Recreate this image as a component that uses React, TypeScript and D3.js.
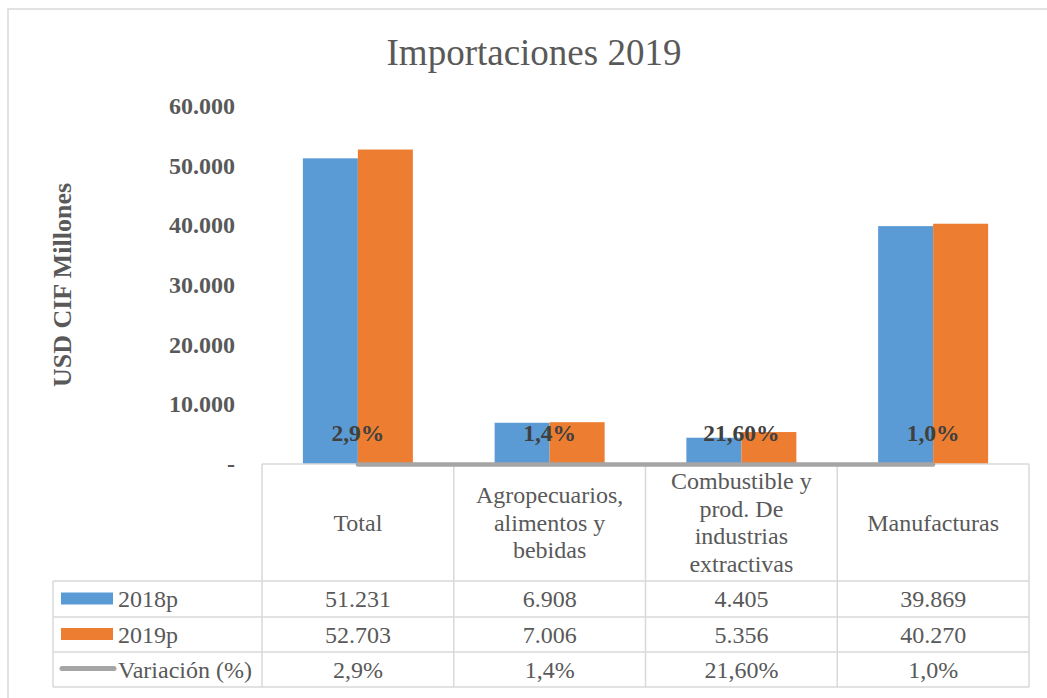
import React from "react";
import * as d3 from "d3";

const categories = ["Total", "Agropecuarios", "Combustible", "Manufacturas"];
const headerLines = [
  ["Total"],
  ["Agropecuarios,", "alimentos y", "bebidas"],
  ["Combustible y", "prod. De", "industrias", "extractivas"],
  ["Manufacturas"],
];
const series = ["2018p", "2019p"];
const values2018 = [51231, 6908, 4405, 39869];
const values2019 = [52703, 7006, 5356, 40270];
const variation = [2.9, 1.4, 21.6, 1.0];
const variationLabels = ["2,9%", "1,4%", "21,60%", "1,0%"];
const yTicks = [0, 10000, 20000, 30000, 40000, 50000, 60000];

const BLUE = "#5B9BD5";
const ORANGE = "#ED7D31";
const GREY = "#A5A5A5";
const TEXT = "#595959";
const BORDER = "#D9D9D9";
const FONT = "'Liberation Serif', 'Times New Roman', serif";

const fmt = (v: number) =>
  v === 0 ? "-" : d3.format(",")(v).replace(/,/g, ".");

export default function App() {
  const W = 1047;
  const H = 698;
  const x = d3.scaleBand<string>().domain(categories).range([262, 1029]);
  const inner = d3
    .scaleBand<string>()
    .domain(series)
    .range([0, x.bandwidth()])
    .paddingInner(0)
    .paddingOuter(0.743);
  const y = d3.scaleLinear().domain([0, 60000]).range([464, 106]);
  const seriesValues = [values2018, values2019];
  const colors = [BLUE, ORANGE];

  const line = d3
    .line<number>()
    .x((_, i) => (x(categories[i]) as number) + x.bandwidth() / 2)
    .y((v) => y(v / 100) + 0.5);

  const tableLeft = 53;
  const tableRight = 1029;
  const headerTop = 464;
  const rowTops = [581, 617, 652, 687];
  const rowLabels = ["2018p", "2019p", "Variación (%)"];
  const rowData = [
    values2018.map(fmt),
    values2019.map(fmt),
    variationLabels,
  ];
  const colEdges = categories.map((c) => x(c) as number).concat([tableRight]);
  const TABLE_FS = 24;

  return (
    <svg width={W} height={H} style={{ display: "block", position: "absolute", left: 0, top: 0 }} fontFamily={FONT}>
      <rect x={0} y={0} width={W} height={H} fill="#fff" />
      <rect x={8} y={9} width={1050} height={700} fill="#fff" stroke={BORDER} strokeWidth={1.5} />
      <text x={534} y={65} textAnchor="middle" fontSize={37} fill={TEXT}>
        Importaciones 2019
      </text>
      <text
        transform={`translate(71,285) rotate(-90)`}
        textAnchor="middle"
        fontSize={26}
        fontWeight="bold"
        fill={TEXT}
      >
        USD CIF Millones
      </text>
      {yTicks.map((t) => (
        <text key={t} x={235} y={y(t) + 8} textAnchor="end" fontSize={24} fontWeight="bold" fill={TEXT}>
          {fmt(t)}
        </text>
      ))}
      {categories.map((c, ci) => (
        <g key={c} transform={`translate(${x(c)},0)`}>
          {series.map((s, si) => (
            <rect
              key={s}
              x={inner(s)}
              width={inner.bandwidth()}
              y={y(seriesValues[si][ci])}
              height={y(0) - y(seriesValues[si][ci])}
              fill={colors[si]}
            />
          ))}
        </g>
      ))}
      {/* table grid */}
      <g stroke={BORDER} strokeWidth={1.5} fill="none">
        <line x1={262} x2={tableRight} y1={headerTop} y2={headerTop} />
        {rowTops.map((ry) => (
          <line key={ry} x1={tableLeft} x2={tableRight} y1={ry} y2={ry} />
        ))}
        {colEdges.map((cx, i) => (
          <line key={i} x1={cx} x2={cx} y1={headerTop} y2={rowTops[3]} />
        ))}
        <line x1={tableLeft} x2={tableLeft} y1={rowTops[0]} y2={rowTops[3]} />
      </g>
      <path d={line(variation) as string} fill="none" stroke={GREY} strokeWidth={4.5} strokeLinecap="round" />
      {categories.map((c, i) => (
        <text
          key={c}
          x={(x(c) as number) + x.bandwidth() / 2}
          y={441}
          textAnchor="middle"
          fontSize={23.5}
          fontWeight="bold"
          fill="#404040"
        >
          {variationLabels[i]}
        </text>
      ))}
      {/* header */}
      {categories.map((c, i) => {
        const lines = headerLines[i];
        const cy = (headerTop + rowTops[0]) / 2;
        const lh = 27.5;
        const start = cy - ((lines.length - 1) * lh) / 2 + 8;
        return (
          <text key={c} textAnchor="middle" fontSize={TABLE_FS} fill={TEXT}>
            {lines.map((l, li) => (
              <tspan key={li} x={(x(c) as number) + x.bandwidth() / 2} y={start + li * lh}>
                {l}
              </tspan>
            ))}
          </text>
        );
      })}
      {/* rows */}
      {rowLabels.map((lab, ri) => {
        const top = rowTops[ri];
        const bottom = rowTops[ri + 1];
        const cy = (top + bottom) / 2;
        return (
          <g key={lab}>
            {ri < 2 ? (
              <rect x={61} y={cy - 6.5} width={52} height={12} fill={colors[ri]} />
            ) : (
              <line x1={62} x2={114} y1={cy - 1} y2={cy - 1} stroke={GREY} strokeWidth={5} strokeLinecap="round" />
            )}
            <text x={118} y={cy + 8} fontSize={TABLE_FS} fill={TEXT}>
              {lab}
            </text>
            {rowData[ri].map((v, ci) => (
              <text
                key={ci}
                x={(x(categories[ci]) as number) + x.bandwidth() / 2}
                y={cy + 8}
                textAnchor="middle"
                fontSize={TABLE_FS}
                fill={TEXT}
              >
                {v}
              </text>
            ))}
          </g>
        );
      })}
    </svg>
  );
}
